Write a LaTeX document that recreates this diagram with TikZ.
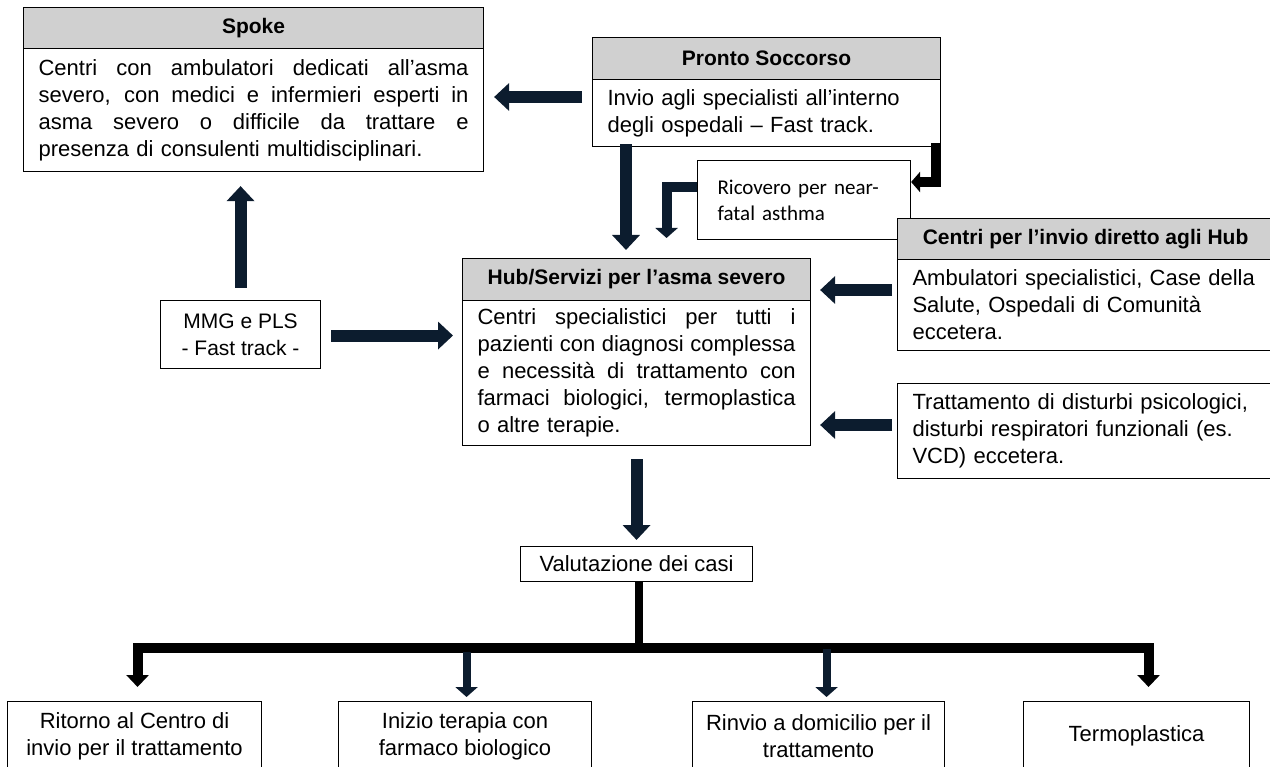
\documentclass[tikz,border=0pt]{standalone}
\usepackage{fontspec}
\setmainfont{Liberation Sans}
\newfontfamily\narrowfont{Carlito}
\usetikzlibrary{arrows.meta,calc}
\definecolor{hdrgray}{HTML}{D0D0D0}
\definecolor{navy}{HTML}{0C1C2E}
\newcommand{\jline}[2]{\leavevmode{\spaceskip=\fontdimen2\font plus 1fil\relax\hbox to #1{#2}}}
\begin{document}
\begin{tikzpicture}[x=1pt,y=-1pt,
  box/.style={draw=black, line width=1.1pt, fill=white, inner sep=0pt, anchor=north west,
    font=\fontsize{22}{27}\selectfont, align=left},
  hdr/.style={box, fill=hdrgray, align=center, font=\bfseries\fontsize{21}{25}\selectfont},
  navyarr/.style={draw=navy, line width=12pt, -{Triangle[width=27pt,length=15pt]}},
  navyelbow/.style={draw=navy, line width=10pt, -{Triangle[width=22pt,length=10pt]}},
  navyslim/.style={draw=navy, line width=8pt, -{Triangle[width=22pt,length=10pt]}},
  blkelbow/.style={draw=black, line width=10pt, -{Triangle[width=20pt,length=9pt]}},
  blkbar/.style={draw=black, line width=10pt, {Triangle[width=22pt,length=12pt]}-{Triangle[width=22pt,length=12pt]}},
  stem/.style={draw=black, line width=8pt}
]
\useasboundingbox (0,0) rectangle (1270,767);
\clip (0,0) rectangle (1270,767);

% Spoke
\node[hdr, minimum width=460pt, minimum height=41pt] (spokeH) at (23,7) {Spoke};
\node[box, minimum width=460pt, minimum height=123pt, text width=430pt] (spoke) at (23,48)
 {\jline{430pt}{Centri con ambulatori dedicati all’asma}\\
  \jline{430pt}{severo, con medici e infermieri esperti in}\\
  \jline{430pt}{asma severo o difficile da trattare e}\\
  presenza di consulenti multidisciplinari.};

% Pronto Soccorso
\node[hdr, minimum width=348pt, minimum height=42pt] (prontoH) at (592,37) {Pronto Soccorso};
\node[box, minimum width=348pt, minimum height=67pt, text width=318pt] (pronto) at (592,79)
 {Invio agli specialisti all’interno\\degli ospedali – Fast track.};

% Ricovero
\node[box, minimum width=213pt, minimum height=79pt, text width=173pt,
      font=\narrowfont\fontsize{21}{26}\selectfont] (ricovero) at (697,160)
 {Ricovero per near-\\fatal asthma};

% Centri per l'invio diretto
\node[hdr, minimum width=376pt, minimum height=41pt] (centriH) at (897,218) {Centri per l’invio diretto agli Hub};
\node[box, minimum width=376pt, minimum height=91pt, text width=346pt] (centri) at (897,259)
 {Ambulatori specialistici, Case della\\Salute, Ospedali di Comunità\\eccetera.};

% Trattamento
\node[box, minimum width=376pt, minimum height=95pt, text width=346pt] (tratt) at (897,383)
 {Trattamento di disturbi psicologici,\\disturbi respiratori funzionali (es.\\VCD) eccetera.};

% Hub
\node[hdr, minimum width=348pt, minimum height=42pt] (hubH) at (462,258) {Hub/Servizi per l’asma severo};
\node[box, minimum width=348pt, minimum height=145pt, text width=318pt] (hub) at (462,300)
 {\jline{318pt}{Centri specialistici per tutti i}\\
  \jline{318pt}{pazienti con diagnosi complessa}\\
  \jline{318pt}{e necessità di trattamento con}\\
  \jline{318pt}{farmaci biologici, termoplastica}\\
  o altre terapie.};

% MMG
\node[box, minimum width=160pt, minimum height=68pt, align=center,
      font=\fontsize{21}{27}\selectfont] (mmg) at (160,300) {MMG e PLS\\- Fast track -};

% Valutazione
\node[box, minimum width=232pt, minimum height=35pt, align=center] (valut) at (520,546) {Valutazione dei casi};

% Outcomes
\node[box, minimum width=254pt, minimum height=69pt, align=center] (out1) at (7,701) {Ritorno al Centro di\\invio per il trattamento};
\node[box, minimum width=253pt, minimum height=69pt, align=center] (out2) at (338,701) {Inizio terapia con\\farmaco biologico};
\node[box, minimum width=252pt, minimum height=69pt, align=center] (out3) at (692,701) {Rinvio a domicilio per il\\trattamento};
\node[box, minimum width=226pt, minimum height=69pt, align=center] (out4) at (1023,701) {Termoplastica};

% Connectors
\draw[navyarr] ($(pronto.north west)+(-10,18)$) -- ($(spoke.north east)+(10,49)$);
\draw[navyarr] ($(mmg.north)+(0,-12)$) -- ($(mmg.north |- spoke.south)+(0,14)$);
\draw[navyarr] ($(mmg.east)+(10,1)$) -- ($(hub.west |- mmg.east)+(-9,1)$);
\draw[navyarr] ($(pronto.south west)+(34,-3)$) -- ($(hubH.north west)+(164,-8)$);
\draw[blkelbow] ($(pronto.south east)+(-5,-4)$) |- ($(ricovero.north east)+(0,22)$);
\draw[navyelbow] ($(ricovero.north west)+(0,27)$) -| ($(hubH.north)+(30,-20)$);
\draw[navyarr] ($(centri.north west)+(-5,31)$) -- ($(hub.north east)+(9,-10)$);
\draw[navyarr] ($(tratt.north west)+(-5,42)$) -- ($(hub.north east)+(9,125)$);
\draw[navyarr] ($(hub.south)+(0,13)$) -- ($(valut.north)+(0,-6)$);

\coordinate (split) at ($(valut.south)+(2,66)$);
\draw[stem] (valut.south -| split) -- (split);
\draw[blkbar] ($(out1.north)+(3,-14)$) |- (split) -| ($(out4.north)+(12,-14)$);
\draw[navyslim] ($(out2.north)+(1.5,-49)$) -- ($(out2.north)+(1.5,-4)$);
\draw[navyslim] ($(out3.north)+(8,-52)$) -- ($(out3.north)+(8,-4)$);
\end{tikzpicture}
\end{document}
